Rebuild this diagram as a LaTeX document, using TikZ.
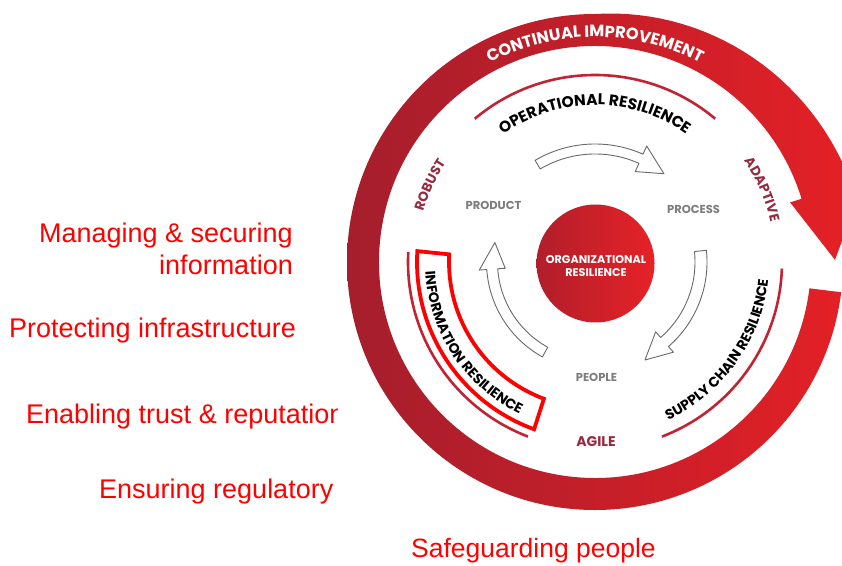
\documentclass[tikz,border=0pt]{standalone}
\usepackage{fontspec}
\setmainfont{Liberation Sans}
\newfontfamily\geo{Poppins}
\usetikzlibrary{decorations.text}
\definecolor{ringL}{RGB}{165,30,44}
\definecolor{ringR}{RGB}{230,32,38}
\definecolor{circL}{RGB}{178,30,42}
\definecolor{circR}{RGB}{230,34,40}
\definecolor{thinred}{RGB}{192,36,52}
\definecolor{maroontxt}{RGB}{150,42,62}
\definecolor{graytxt}{RGB}{125,125,125}
\definecolor{arrowgray}{RGB}{105,105,105}
\definecolor{pred}{RGB}{255,0,0}
\newcommand\blockarc[7]{%
  \draw[blockarrow] (#4:{#1+#2/2}) arc[start angle=#4, end angle=#5, radius={#1+#2/2}]
    -- (#5:{#1+#3/2}) -- (#6:#7) -- (#5:{#1-#3/2}) -- (#5:{#1-#2/2})
    arc[start angle=#5, end angle=#4, radius={#1-#2/2}] -- cycle;}
\begin{document}
\begin{tikzpicture}[x=1pt,y=1pt,
  lefttext/.style={text=pred, font=\fontsize{27}{30}\selectfont, inner sep=0pt},
  thinarc/.style={draw=thinred, line width=2.6pt},
  blockarrow/.style={draw=arrowgray, fill=white, line width=0.9pt, line join=round},
  smalllabel/.style={text=graytxt, font=\geo\bfseries\fontsize{11.5}{12}\selectfont, inner sep=0pt},
  orglabel/.style={text=white, font=\geo\bfseries\fontsize{11.2}{12.5}\selectfont, align=center, inner sep=0pt},
  agilelabel/.style={text=maroontxt, font=\geo\bfseries\fontsize{14}{14}\selectfont, inner sep=0pt}
]
\useasboundingbox (0,0) rectangle (842,565);
\clip (0,0) rectangle (842,565);
\fill[white] (0,0) rectangle (842,565);

% left texts
\node[lefttext, anchor=base east] (t1) at (293,322) {Managing \& securing};
\node[lefttext, anchor=base east] (t2) at (293,290) {information};
\node[lefttext, anchor=base west] (t3) at (9,227) {Protecting infrastructure};
\node[lefttext, anchor=base west] (t4) at (26,142) {Enabling trust \& reputation};
\node[lefttext, anchor=base west] (t5) at (99,67) {Ensuring regulatory};
\node[lefttext, anchor=base west, font=\fontsize{26.5}{30}\selectfont] (t6) at (411,8) {Safeguarding people};

% image area
\fill[white] (338,43) rectangle (842,565);

\begin{scope}[shift={(595,303)}]
  % big ring with arrow head
  \shade[left color=ringL, right color=ringR]
    (17:204) -- (0.5:240) -- (17:282) -- (17:268)
    -- plot[domain=17:90, samples=30, variable=\t] (\t:{248+20*(90-\t)/73})
    arc[start angle=90, end angle=353, radius=248]
    -- (353:216)
    arc[start angle=353, end angle=17, radius=216]
    -- cycle;
  \path[decorate, decoration={text along path, text align=center, text color=white,
    text={|\geo\bfseries\fontsize{16.3}{16.3}\selectfont|CONTINUAL IMPROVEMENT}}]
    (135:225) arc[start angle=135, end angle=45, radius=225];

  % thin arcs
  \draw[thinarc] (50:187) arc[start angle=50, end angle=130, radius=187];
  \draw[thinarc] (-69:187) arc[start angle=-69, end angle=-2, radius=187];
  \draw[thinarc] (177:187) arc[start angle=177, end angle=249, radius=187];

  % arc texts
  \path[decorate, decoration={text along path, text align=center,
    text={|\geo\bfseries\fontsize{15.5}{15.5}\selectfont|OPERATIONAL RESILIENCE}}]
    (140:157) arc[start angle=140, end angle=40, radius=157];
  \path[decorate, decoration={text along path, text align=center,
    text={|\geo\bfseries\fontsize{14}{14}\selectfont|SUPPLY CHAIN RESILIENCE}}]
    (-80:174) arc[start angle=-80, end angle=9, radius=174];
  \path[decorate, decoration={text along path, text align=center,
    text={|\geo\bfseries\fontsize{14}{14}\selectfont|INFORMATION RESILIENCE}}]
    (168:170) arc[start angle=168, end angle=259, radius=170];
  \path[decorate, decoration={text along path, text align=center, text color=maroontxt,
    text={|\geo\bfseries\fontsize{13.5}{13.5}\selectfont|ROBUST}}]
    (175:179) arc[start angle=175, end angle=135, radius=179];
  \path[decorate, decoration={text along path, text align=center, text color=maroontxt,
    text={|\geo\bfseries\fontsize{13.5}{13.5}\selectfont|ADAPTIVE}}]
    (45:180) arc[start angle=45, end angle=2, radius=180];

  % highlight box around information resilience
  \draw[pred, line width=3.8pt, line join=miter]
    (176.5:178) arc[start angle=176.5, end angle=250, radius=178]
    -- (249.5:146) arc[start angle=249.5, end angle=177, radius=146] -- cycle;

  % cycle arrows
  \blockarc{113}{10}{28}{120.5}{66}{52}{112}
  \blockarc{106}{12}{27}{6}{-49}{-63}{110}
  \blockarc{103}{11}{26}{241}{184}{169}{102}

  % center circle
  \shade[left color=circL, right color=circR] (0.5,-1.5) circle[radius=59];
\end{scope}

\node[orglabel] (org) at (596,299) {ORGANIZATIONAL\\RESILIENCE};
\node[smalllabel] (product) at (493.5,360) {PRODUCT};
\node[smalllabel] (process) at (693.5,356) {PROCESS};
\node[smalllabel] (people) at (596.5,187.5) {PEOPLE};
\node[agilelabel] (agile) at (596,123) {AGILE};
\end{tikzpicture}
\end{document}
